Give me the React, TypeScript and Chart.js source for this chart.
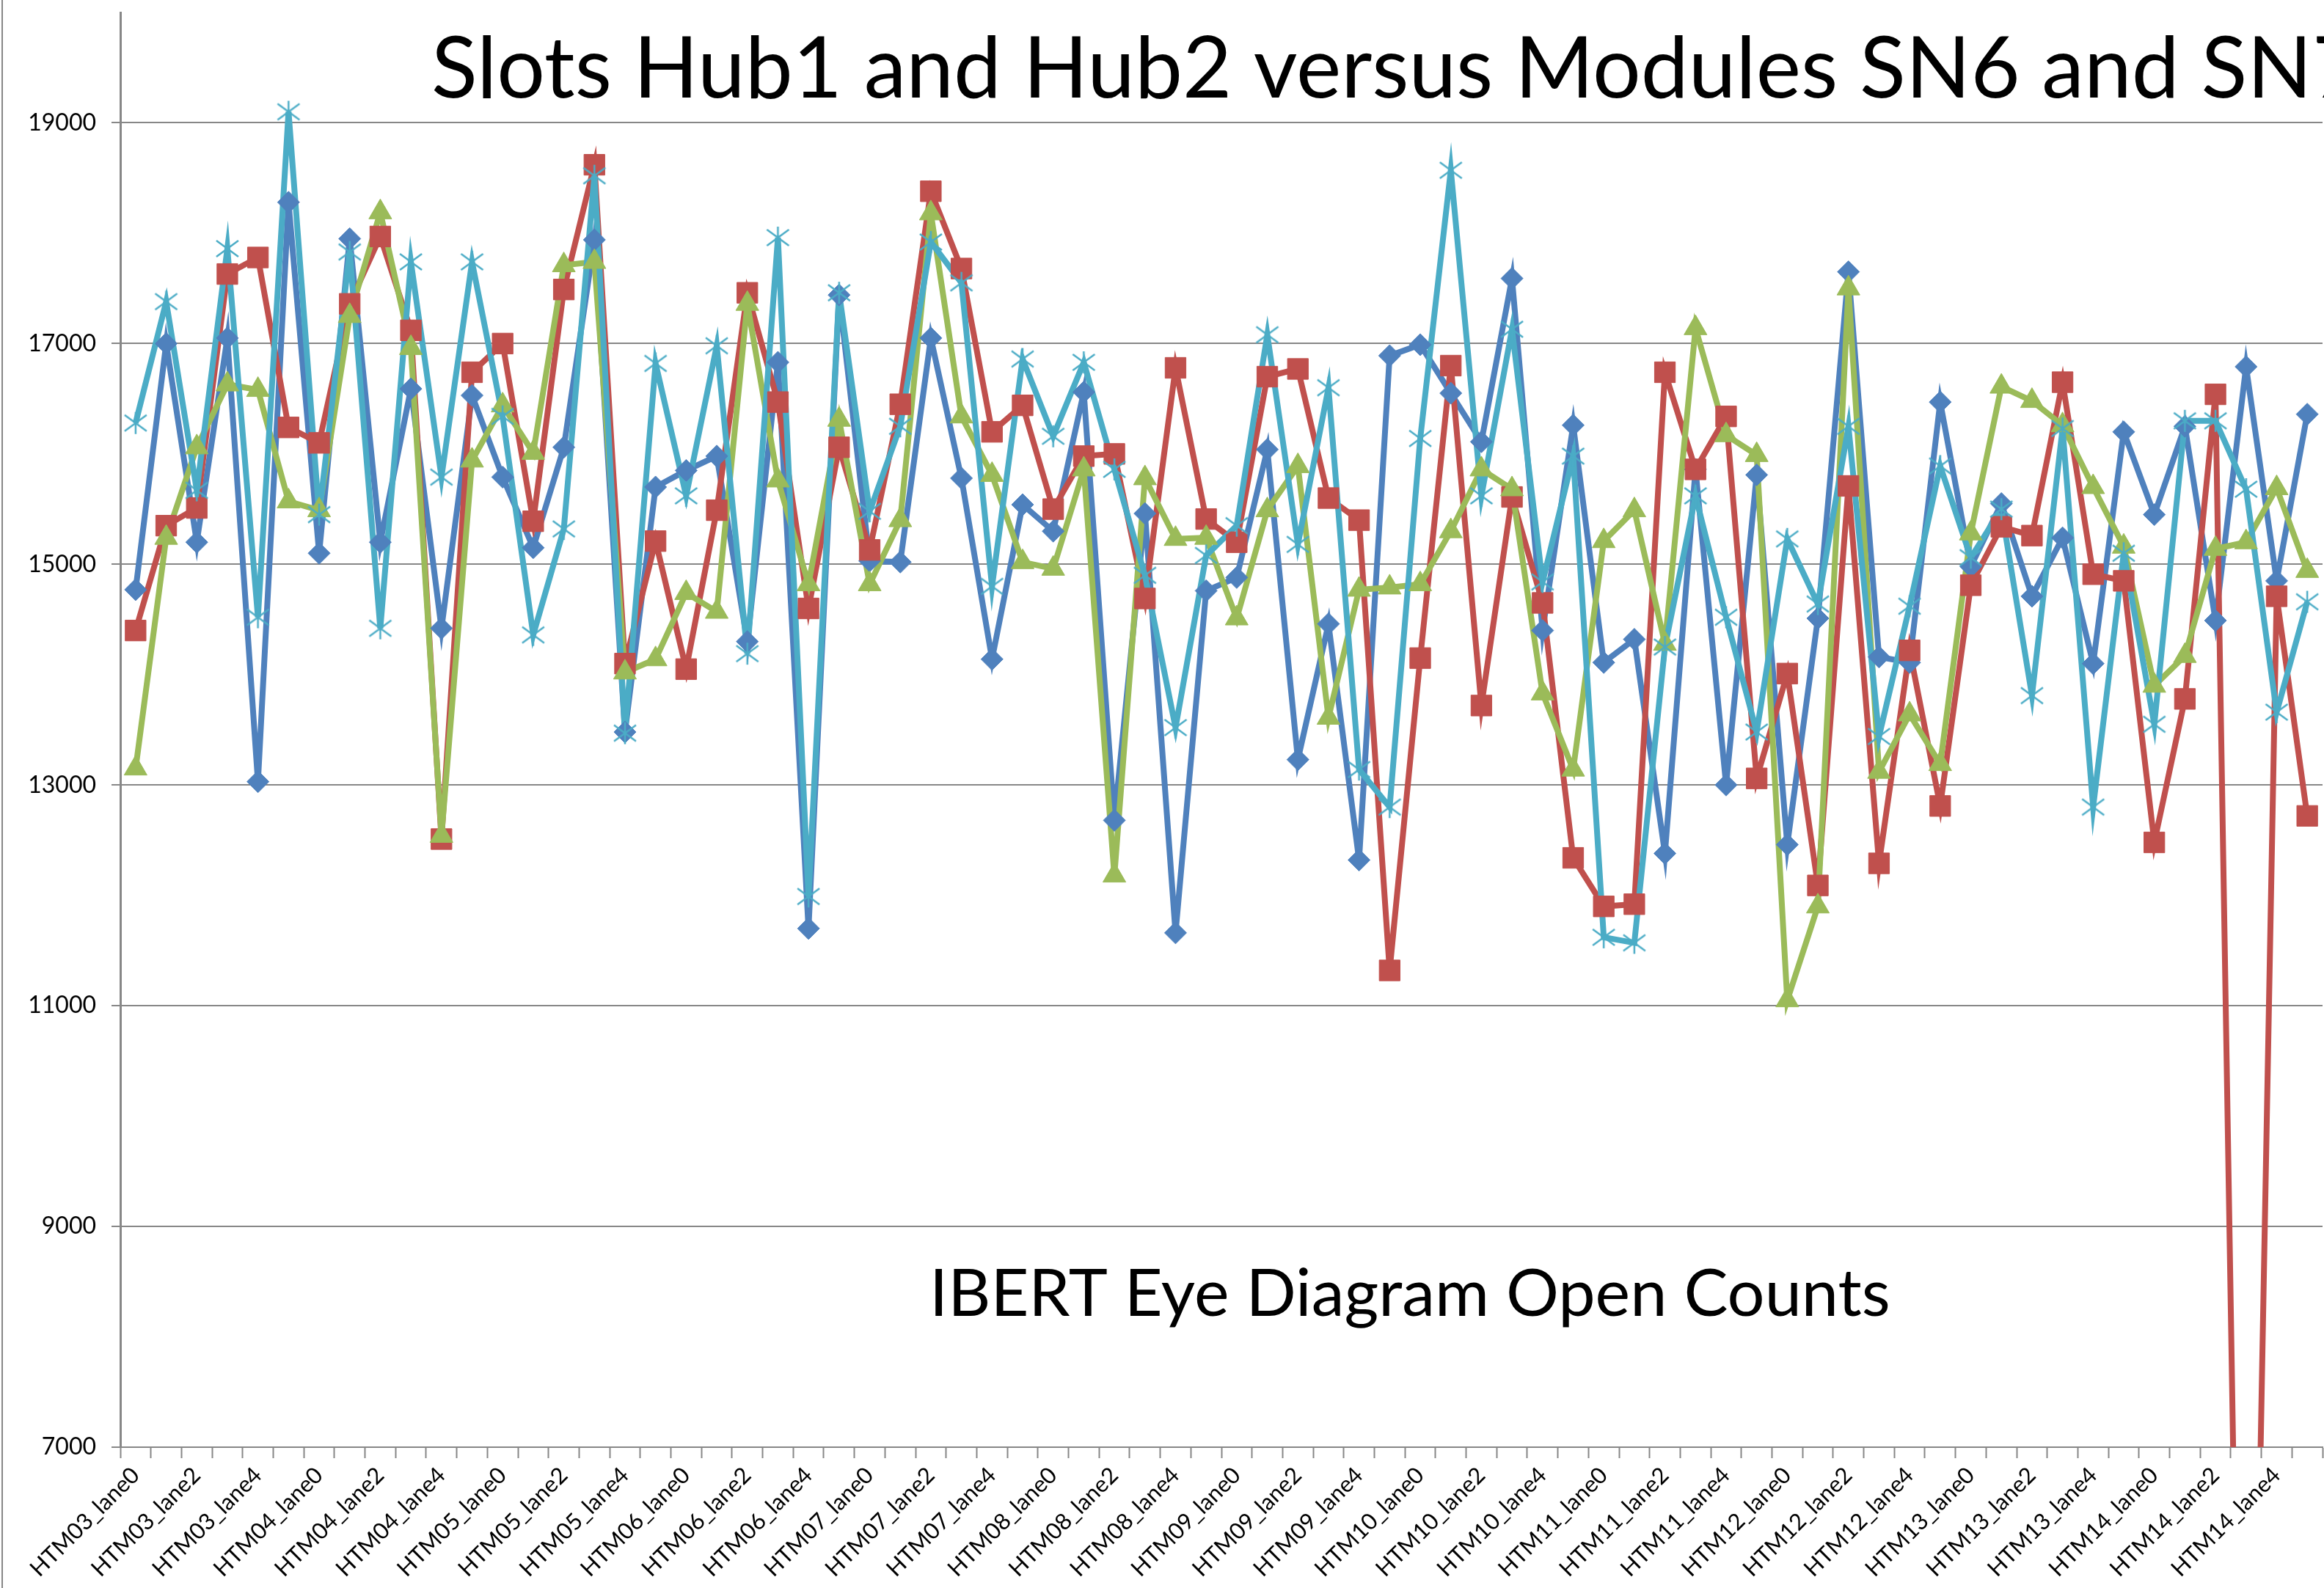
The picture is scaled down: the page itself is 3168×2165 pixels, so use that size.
import React, { useEffect, useRef } from 'react';
import { Chart, registerables } from 'chart.js';

Chart.register(...registerables);

const MODULES = ['HTM03', 'HTM04', 'HTM05', 'HTM06', 'HTM07', 'HTM08', 'HTM09', 'HTM10', 'HTM11', 'HTM12', 'HTM13', 'HTM14'];
const LANES = ['lane0', 'lane1', 'lane2', 'lane3', 'lane4', 'lane5'];
const CATEGORIES = MODULES.flatMap((m) => LANES.map((l) => `${m}_${l}`));

const Y_TICKS = [7000, 9000, 11000, 13000, 15000, 17000, 19000];

const TITLE = 'Slots Hub1 and Hub2 versus Modules SN6 and SN7';
const SUBTITLE = 'IBERT Eye Diagram Open Counts';

const SERIES_NAMES = ['Series 1', 'Series 2', 'Series 3', 'Series 5'];

const BLUE_VALUES = [
  14770, 17000, 15200, 17050, 13030, 18280,
  15100, 17950, 15200, 16590, 14420, 16530,
  15790, 15150, 16060, 17940, 13480, 15700,
  15850, 15980, 14300, 16830, 11700, 17440,
  15030, 15020, 17050, 15780, 14140, 15540,
  15300, 16560, 12680, 15460, 11660, 14760,
  14880, 16040, 13230, 14460, 12320, 16890,
  16990, 16550, 16110, 17590, 14400, 16260,
  14110, 14320, 12380, 15860, 13000, 15810,
  12460, 14510, 17650, 14160, 14110, 16470,
  14980, 15550, 14710, 15240, 14100, 16200,
  15450, 16250, 14490, 16790, 14850, 16360,
];

const RED_VALUES = [
  14400, 15350, 15510, 17630, 17780, 16240,
  16100, 17360, 17970, 17120, 12510, 16740,
  17000, 15390, 17490, 18620, 14100, 15210,
  14050, 15490, 17460, 16470, 14600, 16060,
  15130, 16450, 18380, 17680, 16200, 16440,
  15500, 15980, 16000, 14690, 16780, 15410,
  15200, 16700, 16770, 15600, 15400, 11320,
  14150, 16800, 13720, 15610, 14650, 12340,
  11900, 11920, 16740, 15860, 16340, 13060,
  14010, 12090, 15710, 12290, 14220, 12810,
  14810, 15340, 15260, 16650, 14910, 14850,
  12480, 13780, 16540, 0, 14710, 12720,
];

const GREEN_VALUES = [
  13150, 15240, 16060, 16630, 16580, 15570,
  15490, 17250, 18190, 16960, 12540, 15940,
  16440, 16010, 17710, 17740, 14020, 14140,
  14740, 14570, 17360, 15760, 14820, 16310,
  14820, 15400, 18180, 16340, 15810, 15020,
  14960, 15860, 12180, 15780, 15230, 15240,
  14510, 15490, 15890, 13610, 14770, 14790,
  14820, 15300, 15860, 15680, 13830, 13140,
  15210, 15490, 14280, 17140, 16170, 15990,
  11050, 11900, 17500, 13120, 13640, 13190,
  15280, 16610, 16480, 16260, 15700, 15160,
  13900, 14170, 15140, 15200, 15690, 14940,
];

const CYAN_VALUES = [
  16280, 17380, 15670, 17860, 14520, 19100,
  15450, 17830, 14420, 17740, 15790, 17740,
  16340, 14360, 15320, 18520, 13470, 16820,
  15620, 16980, 14190, 17960, 11990, 17460,
  15480, 16250, 17920, 17550, 14800, 16860,
  16160, 16830, 15860, 14900, 13520, 15080,
  15350, 17080, 15180, 16600, 13140, 12800,
  16140, 18570, 15620, 17130, 14840, 15980,
  11620, 11570, 14250, 15620, 14520, 13480,
  15230, 14640, 16250, 13440, 14620, 15890,
  15060, 15500, 13810, 16230, 12800, 15100,
  13550, 16300, 16300, 15680, 13660, 14660,
];

const COLORS = ['#4F81BD', '#C0504D', '#9BBB59', '#4BACC6'];
const GRID = '#878787';

function makeStar(color: string): HTMLCanvasElement {
  const c = document.createElement('canvas');
  c.width = 34;
  c.height = 34;
  const ctx = c.getContext('2d') as CanvasRenderingContext2D;
  ctx.strokeStyle = color;
  ctx.lineWidth = 2.5;
  ctx.beginPath();
  ctx.moveTo(2, 6);
  ctx.lineTo(32, 28);
  ctx.moveTo(32, 6);
  ctx.lineTo(2, 28);
  ctx.moveTo(17, 2);
  ctx.lineTo(17, 32);
  ctx.stroke();
  return c;
}

const decorations = {
  id: 'decorations',
  afterDraw(chart: any) {
    const ctx = chart.ctx as CanvasRenderingContext2D;
    ctx.save();
    ctx.strokeStyle = GRID;
    ctx.lineWidth = 2;
    ctx.beginPath();
    ctx.moveTo(3, 0);
    ctx.lineTo(3, chart.height);
    ctx.stroke();
    ctx.fillStyle = '#000';
    ctx.textAlign = 'left';
    ctx.textBaseline = 'alphabetic';
    ctx.font = '116px Lato';
    ctx.fillText(TITLE, 588, 133);
    ctx.font = '90px Lato';
    ctx.fillText(SUBTITLE, 1267, 1794);
    ctx.restore();
  },
};

export default function App() {
  const ref = useRef<HTMLCanvasElement | null>(null);

  useEffect(() => {
    document.body.style.margin = '0';
    const canvas = ref.current;
    if (!canvas) return;
    const series = [BLUE_VALUES, RED_VALUES, GREEN_VALUES, CYAN_VALUES];
    const styles: any[] = ['rectRot', 'rect', 'triangle', makeStar(COLORS[3])];
    const radii = [15, 20, 18, 17];

    const lineSets = series.map((data, i) => ({
      label: SERIES_NAMES[i],
      data,
      borderColor: COLORS[i],
      backgroundColor: COLORS[i],
      borderWidth: 8,
      pointRadius: 0,
      tension: 0,
      fill: false,
      order: 14 - i,
    }));
    const markerSets = series.map((data, i) => ({
      label: SERIES_NAMES[i] + ' markers',
      data,
      showLine: false,
      borderColor: COLORS[i],
      backgroundColor: COLORS[i],
      pointStyle: styles[i],
      pointRadius: radii[i],
      pointBorderWidth: 1,
      pointBackgroundColor: COLORS[i],
      pointBorderColor: COLORS[i],
      order: 4 - i,
    }));

    const chart = new Chart(canvas, {
      type: 'line',
      data: { labels: CATEGORIES, datasets: [...lineSets, ...markerSets] as any },
      options: {
        responsive: false,
        maintainAspectRatio: false,
        animation: false,
        layout: { autoPadding: false, padding: { left: 0, top: 17, right: 2, bottom: 0 } },
        plugins: {
          legend: { display: false },
          tooltip: { enabled: false },
          title: { display: false },
        },
        scales: {
          x: {
            type: 'category',
            offset: true,
            grid: {
              display: true,
              offset: true,
              drawOnChartArea: false,
              drawTicks: true,
              tickLength: 15,
              tickColor: GRID,
              tickWidth: 2,
            },
            border: { display: true, color: GRID, width: 2 },
            ticks: {
              autoSkip: false,
              maxRotation: 45,
              minRotation: 45,
              padding: 5,
              color: '#000',
              font: { family: 'Lato', size: 31 },
              callback: (_v: any, i: number) => (i % 2 === 0 ? CATEGORIES[i] : ''),
            },
            afterFit: (s: any) => {
              s.height = 192;
              s.paddingLeft = 0;
              s.paddingRight = 0;
            },
          } as any,
          y: {
            type: 'linear',
            min: 7000,
            max: 20000,
            afterBuildTicks: (s: any) => {
              s.ticks = Y_TICKS.map((v) => ({ value: v }));
            },
            grid: { color: GRID, lineWidth: 2, tickLength: 12, drawTicks: true },
            border: { display: true, color: GRID, width: 3 },
            ticks: {
              padding: 21,
              color: '#000',
              font: { family: 'Lato', size: 32 },
              callback: (v: any) => String(v),
            },
            afterFit: (s: any) => {
              s.width = 164;
              s.paddingTop = 0;
              s.paddingBottom = 0;
            },
          } as any,
        },
      },
      plugins: [decorations],
    });
    return () => chart.destroy();
  }, []);

  return (
    <canvas
      ref={ref}
      width={3168}
      height={2165}
      style={{ display: 'block', width: '3168px', height: '2165px' }}
    />
  );
}
